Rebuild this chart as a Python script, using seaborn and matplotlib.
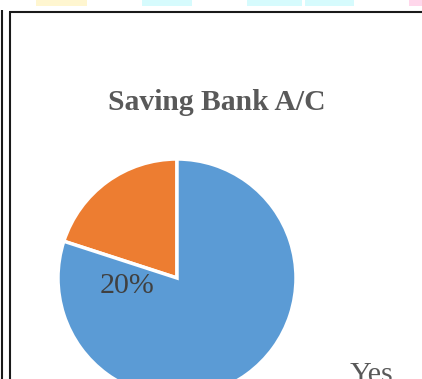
import matplotlib
matplotlib.use("Agg")
import matplotlib.pyplot as plt
from matplotlib.patches import Rectangle
from matplotlib.lines import Line2D
import seaborn as sns

# Survey answers for "Saving Bank A/C"
categories = ["No", "Yes"]
shares = [20, 80]
slice_colors = ["#ED7D31", "#5B9BD5"]

sns.set_theme(style="white")
plt.rcParams["font.family"] = ["Liberation Serif", "DejaVu Serif"]

W, H = 422, 379
fig = plt.figure(figsize=(W / 100, H / 100), dpi=100)
fig.patch.set_facecolor("white")

ax = fig.add_axes([0, 0, 1, 1])
ax.set_axis_off()


def py(y):
    """Convert a top-down pixel row to the axes' bottom-up coordinate."""
    return H - y


# Pastel header cells peeking in above the chart frame
header_cells = [(36, 87, "#FFF6D0"), (142, 192, "#D6FBFD"),
                (247, 302, "#D6FBFD"), (305, 354, "#D6FBFD"),
                (409, 422, "#FFD7EB")]
for x0, x1, c in header_cells:
    ax.add_patch(Rectangle((x0, py(6)), x1 - x0, 6, facecolor=c,
                           edgecolor="none", zorder=0))

# Chart frame lines
frame_kw = dict(color="#1a1a1a", linewidth=1.5, solid_capstyle="butt")
ax.add_line(Line2D([1.5, 1.5], [py(10), py(380)], **frame_kw))
ax.add_line(Line2D([9.5, 9.5], [py(11.5), py(380)], **frame_kw))
ax.add_line(Line2D([9, 423], [py(12), py(12)], **frame_kw))

# Pie
wedges, _ = ax.pie(shares, colors=slice_colors, startangle=90,
                   counterclock=True, center=(177, py(278)), radius=119,
                   wedgeprops=dict(edgecolor="white", linewidth=2.5))

ax.set_xlim(0, W)
ax.set_ylim(0, H)
ax.set_aspect("auto")

# Title
ax.text(217, py(110), "Saving Bank A/C", ha="center", va="baseline",
        fontsize=21.3, fontweight="bold", color="#595959")

# Percentage label of the smaller slice
ax.text(100, py(293), f"{shares[0]}%", ha="left", va="baseline",
        fontsize=21.6, color="#404040")

# Legend entry
ax.text(350, py(382), categories[1], ha="left", va="baseline",
        fontsize=21.6, color="#595959", clip_on=False)

fig.savefig("out.png", dpi=100, facecolor="white")
